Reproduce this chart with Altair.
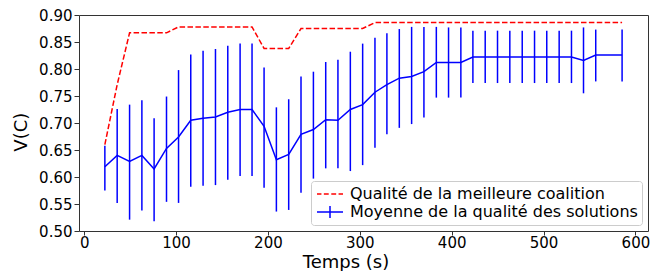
import altair as alt
import pandas as pd

# ---- data ----
time_s = [22.5, 35.9, 49.4, 62.8, 76.1, 89.6, 102.7, 116.0, 129.4, 142.9,
          156.3, 169.7, 182.7, 195.8, 209.2, 222.6, 236.0, 249.5, 262.9, 276.2,
          289.7, 303.1, 316.5, 329.5, 343.0, 356.4, 369.8, 383.3, 396.6, 410.0,
          423.1, 436.5, 449.9, 463.3, 476.8, 490.2, 503.5, 517.0, 530.4, 543.5,
          556.8, 585.5]

mean_q = [0.619, 0.640, 0.629, 0.640, 0.615, 0.653, 0.674, 0.705, 0.709, 0.711,
          0.720, 0.725, 0.725, 0.694, 0.632, 0.642, 0.679, 0.688, 0.706, 0.705,
          0.725, 0.734, 0.757, 0.771, 0.783, 0.786, 0.795, 0.812, 0.812, 0.812,
          0.822, 0.822, 0.822, 0.822, 0.822, 0.822, 0.822, 0.822, 0.822, 0.816,
          0.826, 0.826]

high_q = [0.658, 0.726, 0.734, 0.742, 0.709, 0.749, 0.798, 0.827, 0.834, 0.837,
          0.843, 0.847, 0.847, 0.803, 0.729, 0.744, 0.786, 0.795, 0.813, 0.817,
          0.832, 0.847, 0.858, 0.866, 0.874, 0.878, 0.878, 0.878, 0.877, 0.877,
          0.871, 0.871, 0.871, 0.871, 0.871, 0.871, 0.871, 0.871, 0.871, 0.877,
          0.873, 0.873]

low_q = [0.575, 0.552, 0.521, 0.538, 0.518, 0.554, 0.552, 0.582, 0.584, 0.585,
         0.595, 0.602, 0.602, 0.580, 0.536, 0.539, 0.571, 0.597, 0.616, 0.616,
         0.611, 0.622, 0.654, 0.679, 0.691, 0.698, 0.710, 0.747, 0.747, 0.747,
         0.774, 0.774, 0.774, 0.774, 0.774, 0.774, 0.774, 0.774, 0.774, 0.755,
         0.777, 0.777]

best_q = [0.660, 0.771, 0.867, 0.867, 0.867, 0.867, 0.878, 0.878, 0.878, 0.878,
          0.878, 0.878, 0.878, 0.838, 0.838, 0.838, 0.875, 0.875, 0.875, 0.875,
          0.875, 0.875, 0.886, 0.886, 0.886, 0.886, 0.886, 0.886, 0.886, 0.886,
          0.886, 0.886, 0.886, 0.886, 0.886, 0.886, 0.886, 0.886, 0.886, 0.886,
          0.886, 0.886]

series_names = ["Qualité de la meilleure coalition",
                "Moyenne de la qualité des solutions"]
series_colors = ["#ff0000", "#0000ff"]
# legend handles: dashed red line, blue line with error-bar stroke
legend_shapes = ["M-1.625,0L-1.07,0M-0.77,0L-0.16,0M0.16,0L0.77,0M1.07,0L1.625,0",
                 "M-1.625,0L1.625,0M0,-0.75L0,0.75"]

x_ticks = [0, 100, 200, 300, 400, 500, 600]
y_ticks = [0.50, 0.55, 0.60, 0.65, 0.70, 0.75, 0.80, 0.85, 0.90]

df = pd.DataFrame({"t": time_s, "mean": mean_q, "lo": low_q, "hi": high_q, "best": best_q})
leg = pd.DataFrame({"series": series_names})

FONT = "DejaVu Sans"

xs = alt.Scale(domain=[-5.65, 613.7], nice=False, zero=False)
ys = alt.Scale(domain=[0.5, 0.9], nice=False, zero=False)

x_enc = alt.X("t:Q", scale=xs, axis=alt.Axis(
    values=x_ticks, title="Temps (s)", format="d",
    tickSize=4, labelPadding=12, labelBaseline="alphabetic",
    titleFontSize=18, titleFont=FONT, titleFontWeight="normal",
    titleBaseline="alphabetic", titleY=36.3, titleX=266.5, titleAlign="center",
))
y_axis = alt.Axis(
    values=y_ticks, title="V(C)", format=".2f",
    tickSize=5, labelPadding=2, labelBaseline="middle",
    titleFontSize=18, titleFont=FONT, titleFontWeight="normal",
    titleAngle=270, titleBaseline="alphabetic", titleX=-52.3, titleY=116.7,
    titleAlign="center",
)

base = alt.Chart(df)

bars = base.mark_rule(color="#0000ff", strokeWidth=1.5).encode(
    x=x_enc, y=alt.Y("lo:Q", scale=ys, axis=y_axis), y2="hi:Q")

mean_line = base.mark_line(color="#0000ff", strokeWidth=1.5).encode(
    x=x_enc, y=alt.Y("mean:Q", scale=ys, axis=y_axis))

best_line = base.mark_line(color="#ff0000", strokeWidth=1.5, strokeDash=[5.5, 2.4]).encode(
    x=x_enc, y=alt.Y("best:Q", scale=ys, axis=y_axis))

legend_props = dict(
    title=None, orient="bottom-right", offset=6, padding=4,
    strokeColor="#cccccc", fillColor="rgba(255,255,255,0.8)", cornerRadius=3,
    labelFont=FONT, labelFontSize=16, labelColor="black", labelLimit=500,
    labelOffset=11, symbolOffset=6, symbolSize=256, symbolStrokeWidth=1.5,
    symbolOpacity=1, rowPadding=1,
)

legend_layer = alt.Chart(leg).mark_point(filled=False, opacity=0).encode(
    color=alt.Color("series:N", scale=alt.Scale(domain=series_names, range=series_colors),
                    legend=alt.Legend(**legend_props)),
    shape=alt.Shape("series:N", scale=alt.Scale(domain=series_names, range=legend_shapes),
                    legend=alt.Legend(**legend_props)),
)

chart = alt.layer(bars, mean_line, best_line, legend_layer).properties(
    width=569, height=216,
    autosize=alt.AutoSizeParams(type="none"),
    padding={"left": 71, "top": 7, "right": 8, "bottom": 40},
    background="white",
).configure_view(
    stroke="#333333", strokeWidth=1,
).configure_axis(
    domain=False, grid=False, tickColor="#333333", tickWidth=1,
    labelFont=FONT, labelFontSize=15, labelColor="black",
    titleColor="black",
)

chart.save("out.html", embed_options={"renderer": "svg", "actions": False})
